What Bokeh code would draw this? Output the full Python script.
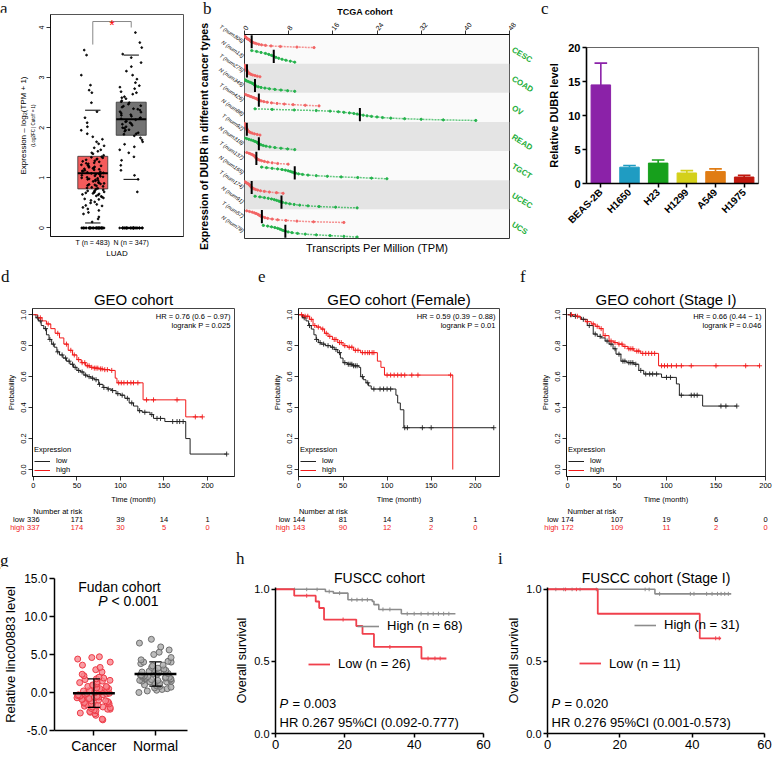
import numpy as np
from bokeh.plotting import figure
from bokeh.models import (Range1d, LinearAxis, FixedTicker, Label, ColumnDataSource, Div,
                          Legend, LegendItem, BoxAnnotation, NumeralTickFormatter)
from bokeh.layouts import row, column
from bokeh.transform import jitter
from bokeh.core.properties import value
from bokeh.embed import file_html
from bokeh.resources import INLINE

SANS = "Liberation Sans"
SERIF = "Liberation Serif"

# ======================= DATA =======================
# (a) GEPIA box plot, LUAD
a_labels = ["T (n = 483)", "N (n = 347)"]
a_q1 = [0.78, 1.85]
a_med = [1.09, 2.17]
a_q3 = [1.43, 2.51]
a_lo = [0.10, 0.97]
a_hi = [2.35, 3.45]
a_T = [0] * 40 + [
       0.12, 0.18, 0.22, 0.28, 0.31, 0.35, 0.38, 0.41, 0.44, 0.47, 0.50, 0.52, 0.55, 0.57,
       0.60, 0.62, 0.64, 0.66, 0.68, 0.70, 0.71, 0.73, 0.75, 0.76, 0.78, 0.80, 0.81, 0.83,
       0.85, 0.86, 0.88, 0.90, 0.91, 0.93, 0.95, 0.96, 0.98, 1.00, 1.01, 1.03, 1.05, 1.06,
       1.08, 1.09, 1.10, 1.12, 1.14, 1.15, 1.17, 1.19, 1.20, 1.22, 1.24, 1.26, 1.28, 1.30,
       1.32, 1.34, 1.36, 1.38, 1.40, 1.42, 1.45, 1.48, 1.50, 1.53, 1.56, 1.60, 1.64, 1.68,
       1.72, 1.77, 1.82, 1.88, 1.95, 2.02, 2.10, 2.20, 2.32, 2.50, 2.70, 2.75, 2.85, 3.05,
       3.45, 3.55,
       0.45, 0.58, 0.63, 0.69, 0.74, 0.79, 0.84, 0.89, 0.94, 0.99, 1.04, 1.07, 1.11, 1.16,
       1.21, 1.25, 1.29, 1.33, 1.37, 1.41, 0.67, 0.72, 0.87, 0.97, 1.02, 1.13, 1.18, 1.23]
a_N = [0] * 34 + [
       0.72, 0.97, 1.05, 1.15, 1.25, 1.35, 1.42, 1.50, 1.56, 1.62, 1.67, 1.72, 1.76, 1.80,
       1.84, 1.87, 1.90, 1.93, 1.96, 1.99, 2.02, 2.05, 2.08, 2.10, 2.13, 2.16, 2.18, 2.20,
       2.23, 2.26, 2.29, 2.32, 2.35, 2.38, 2.41, 2.44, 2.47, 2.50, 2.54, 2.58, 2.62, 2.67,
       2.72, 2.78, 2.84, 2.90, 2.97, 3.05, 3.13, 3.22, 3.30, 3.40, 3.47, 3.60, 3.70, 3.90,
       1.88, 1.95, 2.00, 2.07, 2.12, 2.19, 2.25, 2.31, 2.37, 2.43, 2.52, 2.60, 2.70, 2.81]

# (b) TCGA dot plot
b_types = ["CESC", "COAD", "OV", "READ", "TGCT", "UCEC", "UCS"]
b_tum_n = [306, 275, 426, 92, 137, 174, 57]
b_nor_n = [13, 349, 88, 318, 165, 91, 78]
b_T = [
    [0.0, 0.1, 0.2, 0.3, 0.4, 0.5, 0.7, 0.9, 1.0, 1.1, 1.2, 1.4, 1.6, 1.9, 2.2, 2.6, 3.1, 3.8, 4.8, 6.5, 9.5, 12.6],
    [0.0, 0.05, 0.1, 0.15, 0.2, 0.25, 0.3, 0.35, 0.4, 0.4, 0.45, 0.5, 0.6, 0.7, 0.8, 1.0, 1.2, 1.5, 1.9, 2.3, 2.8],
    [0.0, 0.3, 0.6, 0.9, 1.2, 1.5, 1.8, 2.1, 2.3, 2.5, 2.7, 3.0, 3.5, 4.1, 4.9, 5.9, 7.2, 8.8, 11.0, 13.5],
    [0.0, 0.05, 0.1, 0.15, 0.2, 0.25, 0.3, 0.35, 0.4, 0.4, 0.45, 0.5, 0.6, 0.7, 0.9, 1.1, 1.4, 1.8, 2.3, 2.8],
    [0.4, 0.8, 1.1, 1.4, 1.6, 1.8, 1.9, 2.0, 2.1, 2.2, 2.4, 2.7, 3.1, 3.6, 4.2, 5.0, 6.0, 7.9],
    [0.0, 0.2, 0.4, 0.6, 0.8, 0.9, 1.0, 1.1, 1.2, 1.3, 1.5, 1.7, 2.0, 2.4, 2.9, 3.6, 4.5, 5.8, 7.0],
    [0.4, 0.9, 1.4, 1.8, 2.1, 2.4, 2.6, 2.8, 3.0, 3.3, 3.7, 4.2, 5.0, 6.0, 7.5, 9.5, 12.5, 18.0],
]
b_N = [
    [1.3, 2.2, 3.0, 3.8, 4.4, 4.9, 5.3, 5.7, 6.2, 6.8, 7.5, 8.3, 9.1],
    [0.0, 0.2, 0.4, 0.7, 1.0, 1.3, 1.5, 1.7, 1.8, 1.9, 2.1, 2.5, 3.0, 3.7, 4.5, 5.5, 6.6, 7.8, 9.1],
    [1.9, 5.0, 9.0, 13.0, 15.5, 17.0, 18.0, 19.0, 19.8, 20.4, 20.9, 21.5, 22.2, 23.0, 24.0, 25.0, 26.5, 29.0, 32.0, 36.0, 41.9],
    [0.0, 0.4, 0.8, 1.2, 1.6, 1.9, 2.2, 2.4, 2.5, 2.7, 3.0, 3.4, 3.9, 4.6, 5.5, 6.6, 7.8, 9.1],
    [3.1, 4.0, 5.0, 6.0, 6.8, 7.4, 7.9, 8.3, 8.6, 8.9, 9.3, 9.8, 10.5, 11.5, 13.0, 15.0, 17.5, 20.5, 23.0, 25.8],
    [1.9, 2.8, 3.6, 4.3, 4.9, 5.4, 5.8, 6.2, 6.5, 6.9, 7.5, 8.2, 9.0, 10.0, 11.5, 13.5, 16.5, 20.4],
    [3.4, 4.2, 4.9, 5.5, 6.0, 6.4, 6.7, 7.0, 7.4, 7.9, 8.6, 9.6, 11.0, 13.0, 15.5, 18.0, 20.4],
]
b_xticks = [0, 8, 16, 24, 32, 40, 48]

# (c) cell lines
c_cells = ["BEAS-2B", "H1650", "H23", "H1299", "A549", "H1975"]
c_vals = [14.5, 2.4, 3.0, 1.55, 1.75, 0.95]
c_err = [3.2, 0.25, 0.45, 0.35, 0.4, 0.25]
c_colors = ["#8B22A8", "#1F9CC2", "#17A01C", "#D4D01A", "#E07C14", "#C0180E"]
c_yticks = [0, 5, 10, 15, 20]

# (d, e, f) GEO Kaplan-Meier
km_xticks = [0, 50, 100, 150, 200]
km_yticks = [0.0, 0.2, 0.4, 0.6, 0.8, 1.0]

d_low_t = [0, 3, 6, 9, 12, 15, 18, 21, 24, 27, 30, 34, 38, 42, 46, 50, 54, 58, 62, 66, 70, 75, 80, 85, 90,
           95, 100, 105, 110, 115, 120, 125, 134, 138, 151, 175, 180, 222]
d_low_s = [1.0, 0.98, 0.96, 0.93, 0.91, 0.87, 0.84, 0.81, 0.79, 0.76, 0.74, 0.72, 0.70, 0.68, 0.66, 0.64,
           0.63, 0.61, 0.60, 0.59, 0.58, 0.55, 0.53, 0.52, 0.51, 0.49, 0.48, 0.46, 0.43, 0.41, 0.38, 0.37,
           0.355, 0.33, 0.31, 0.20, 0.10, 0.10]
d_low_c = [5, 8, 14, 19, 23, 28, 33, 37, 41, 45, 48, 52, 56, 60, 64, 68, 72, 76, 81, 86, 91, 97, 102, 108,
           113, 122, 128, 136, 142, 146, 160, 165, 168, 172, 222]
d_high_t = [0, 5, 10, 15, 20, 25, 30, 35, 40, 45, 50, 55, 60, 65, 70, 75, 80, 88, 94, 96, 126, 175, 194]
d_high_s = [1.0, 0.98, 0.96, 0.94, 0.91, 0.88, 0.85, 0.81, 0.77, 0.74, 0.71, 0.69, 0.67, 0.66, 0.655, 0.65,
            0.645, 0.64, 0.59, 0.56, 0.45, 0.34, 0.34]
d_high_c = [8, 17, 28, 38, 43, 47, 52, 56, 59, 62, 64, 67, 70, 72, 74, 77, 79, 82, 85, 90, 98, 101, 104, 108,
            112, 115, 120, 130, 138, 165, 186, 194]
d_risk_low = [336, 171, 39, 14, 1]
d_risk_high = [337, 174, 30, 5, 0]

e_low_t = [0, 4, 8, 11, 14, 17, 19.5, 22, 25, 30, 36, 40, 44, 47, 50, 55, 61, 68, 70, 73, 76, 79, 82, 110,
           112, 115, 119, 221]
e_low_s = [1.0, 0.98, 0.96, 0.93, 0.907, 0.87, 0.84, 0.82, 0.81, 0.80, 0.79, 0.775, 0.755, 0.72, 0.69, 0.68,
           0.67, 0.66, 0.60, 0.58, 0.56, 0.54, 0.52, 0.48, 0.43, 0.386, 0.27, 0.27]
e_low_c = [6, 12, 20, 24, 28, 33, 38, 42, 46, 52, 56, 58, 60, 62, 64, 66, 72, 78, 85, 92, 96, 100, 104, 120,
           123, 140, 150, 221]
e_high_t = [0, 5, 12, 16, 20, 25, 29, 33, 38, 44, 50, 55, 62, 70, 89, 93, 97, 174.5]
e_high_s = [1.0, 0.99, 0.97, 0.93, 0.92, 0.907, 0.88, 0.86, 0.84, 0.82, 0.80, 0.79, 0.77, 0.755, 0.70, 0.66,
            0.61, 0.0]
e_high_c = [3, 7, 10, 14, 18, 22, 27, 31, 35, 40, 42, 46, 48, 52, 57, 60, 64, 67, 72, 75, 78, 80, 83, 85, 100,
            104, 108, 112, 116, 120, 128, 135, 172]
e_risk_low = [144, 81, 14, 3, 1]
e_risk_high = [143, 90, 12, 2, 0]

f_low_t = [0, 5, 10, 14, 20, 26, 30, 34, 38, 42, 46, 49, 54, 60, 67, 72, 77, 95, 110, 113, 136.5, 171]
f_low_s = [1.0, 0.99, 0.985, 0.97, 0.93, 0.875, 0.86, 0.85, 0.83, 0.81, 0.78, 0.745, 0.70, 0.69, 0.68, 0.64,
           0.617, 0.595, 0.553, 0.48, 0.41, 0.41]
f_low_c = [3, 8, 16, 22, 28, 33, 40, 44, 48, 52, 56, 58, 62, 64, 66, 69, 74, 79, 83, 86, 90, 100, 104, 115,
           125, 128, 131, 155, 160, 171]
f_high_t = [0, 8, 13, 18, 24, 28, 32, 36, 42, 47, 51, 56, 61, 67, 74, 92, 194.5]
f_high_s = [1.0, 0.99, 0.97, 0.955, 0.94, 0.925, 0.91, 0.865, 0.83, 0.82, 0.81, 0.795, 0.78, 0.765, 0.75,
            0.67, 0.67]
f_high_c = [4, 10, 20, 26, 30, 34, 38, 44, 48, 52, 55, 58, 62, 64, 66, 70, 72, 76, 79, 82, 85, 88, 95, 98,
            101, 105, 110, 115, 125, 150, 180, 194]
f_risk_low = [174, 107, 19, 6, 0]
f_risk_high = [172, 109, 11, 2, 0]

# (g) Fudan cohort
g_groups = ["Cancer", "Normal"]
g_cancer = [-3.6, -3.5, -3.0, -2.8, -2.7, -2.6, -2.5, -2.4, -2.3, -2.2, -2.2, -2.1, -2.0, -1.9, -1.9, -1.8,
            -1.7, -1.7, -1.6, -1.5, -1.5, -1.4, -1.3, -1.3, -1.2, -1.1, -1.1, -1.0, -0.9, -0.9, -0.8, -0.8,
            -0.7, -0.7, -0.6, -0.6, -0.5, -0.5, -0.4, -0.4, -0.3, -0.3, -0.2, -0.2, -0.1, -0.1, 0.0, 0.0,
            0.1, 0.1, 0.2, 0.2, 0.3, 0.3, 0.4, 0.5, 0.5, 0.6, 0.7, 0.8, 0.8, 0.9, 1.0, 1.1, 1.2, 1.3, 1.4,
            1.5, 1.6, 1.7, 1.8, 1.9, 2.0, 2.2, 2.4, 2.7, 3.0, 3.3, 3.6, 4.0, 4.4, 4.6, 4.7]
g_normal = [0.0, 0.2, 0.3, 0.4, 0.5, 0.6, 0.7, 0.8, 0.9, 1.0, 1.0, 1.1, 1.2, 1.2, 1.3, 1.4, 1.4, 1.5, 1.5,
            1.6, 1.6, 1.7, 1.7, 1.8, 1.8, 1.9, 1.9, 2.0, 2.0, 2.0, 2.1, 2.1, 2.2, 2.2, 2.3, 2.3, 2.4, 2.5,
            2.5, 2.6, 2.7, 2.8, 2.9, 3.0, 3.1, 3.2, 3.3, 3.5, 3.6, 3.8, 4.0, 4.0, 4.1, 4.3, 4.6, 5.0, 5.3,
            5.6, 6.0, 6.5, 7.0]
g_yticks = [-5, 0, 5, 10, 15]

# (h, i) FUSCC Kaplan-Meier
p_xticks = [0, 20, 40, 60]
p_yticks = [0.0, 0.5, 1.0]
h_hi_t = [0, 14.4, 16.7, 20.9, 27.9, 28.4, 29.8, 36.3, 51.9]
h_hi_s = [1.0, 0.984, 0.973, 0.927, 0.916, 0.893, 0.86, 0.83, 0.83]
h_hi_c = [5.5, 9, 12, 15.5, 18.5, 22, 23.5, 25, 26.5, 31, 33, 38, 40, 42, 44, 45.5, 47, 48.5, 50]
h_lo_t = [0, 5.4, 11.6, 12.6, 14.0, 23.3, 25.1, 28.4, 42.1, 49.3]
h_lo_s = [1.0, 0.955, 0.915, 0.87, 0.79, 0.745, 0.69, 0.60, 0.52, 0.52]
h_lo_c = [9, 19.5, 33, 44, 46, 47.5]
i_hi_t = [0, 29.7, 50.8]
i_hi_s = [1.0, 0.968, 0.968]
i_hi_c = [2.3, 4.5, 6.8, 9, 13.5, 27, 28.1, 31, 39.5, 40.5, 44, 45.5, 47, 48, 49, 50]
i_lo_t = [0, 13.9, 42.1, 48.0]
i_lo_s = [1.0, 0.83, 0.66, 0.66]
i_lo_c = [5, 8, 46.5, 47.5]

# ======================= HELPERS =======================
def make_fig(w, h, l, r, t, b, xr, yr):
    p = figure(width=w, height=h, x_range=xr, y_range=yr, output_backend="svg",
               toolbar_location=None, x_axis_location=None, y_axis_location=None,
               min_border_left=l, min_border_right=r, min_border_top=t, min_border_bottom=b)
    p.grid.visible = False
    p.outline_line_color = None
    return p


def mk_axis(ticks, size="8px", lsize=None, label="", bold=False, bold_title=False, tick_out=4,
            line=True, lw=1, standoff=2, title_standoff=4, color="black", orient="horizontal"):
    ax = LinearAxis(ticker=FixedTicker(ticks=ticks))
    ax.axis_label = label
    ax.major_label_text_font = SANS
    ax.axis_label_text_font = SANS
    ax.major_label_text_font_size = size
    ax.axis_label_text_font_size = lsize or size
    ax.major_label_text_font_style = "bold" if bold else "normal"
    ax.axis_label_text_font_style = "bold" if bold_title else "normal"
    ax.axis_label_text_color = "black"
    ax.major_tick_out = tick_out
    ax.major_tick_in = 0
    ax.minor_tick_line_color = None
    ax.major_label_standoff = standoff
    ax.axis_label_standoff = title_standoff
    ax.axis_line_width = lw
    ax.major_tick_line_width = lw
    ax.major_label_text_color = color
    ax.major_label_orientation = orient
    if not line:
        ax.axis_line_color = None
    if tick_out == 0:
        ax.major_tick_line_color = None
    return ax


def lab(p, x, y, text, size="8px", align="left", baseline="middle", style="normal", color="black",
        font=SANS, xu="screen", yu="screen", x_offset=0):
    p.add_layout(Label(x=x, y=y, x_units=xu, y_units=yu, text=text, text_font=font,
                       text_font_size=size, text_align=align, text_baseline=baseline,
                       text_font_style=style, text_color=color, x_offset=x_offset))


def set_title(p, text, size="15px", standoff=3, offset=0):
    p.title.text = text
    p.title.align = "center"
    p.title.text_font = SANS
    p.title.text_font_size = size
    p.title.text_font_style = "normal"
    p.title.text_color = "black"
    p.title.standoff = standoff
    p.title.offset = offset


def head_div(w, h, letter, left, top, extra=""):
    html = ('<div style="position:relative;width:%dpx;height:%dpx;">'
            '<span style="position:absolute;left:%dpx;top:%dpx;font-family:\'Liberation Serif\',serif;'
            'font-size:17px;line-height:17px;color:#111;">%s</span>%s</div>') % (w, h, left, top, letter, extra)
    return Div(text=html, width=w, height=h, margin=0)


def step_at(t, s, c):
    t = np.asarray(t, dtype=float)
    s = np.asarray(s, dtype=float)
    idx = np.searchsorted(t, np.asarray(c, dtype=float), side="right") - 1
    return s[np.clip(idx, 0, len(s) - 1)].tolist()

# ======================= (a) =======================
pa = make_fig(195, 248, 50, 12, 2, 20, Range1d(-1.6, 1.86), Range1d(-0.17, 4.26))
pa.outline_line_color = "#555555"
a_pos = [-0.5, 0.5]
hw = 0.39
pa.quad(left=[x - hw for x in a_pos], right=[x + hw for x in a_pos], bottom=a_q1, top=a_q3,
        fill_color=["#F45B5B", "#737373"], line_color="#333333", line_width=0.8)
a_src = ColumnDataSource(dict(x=[a_pos[0]] * len(a_T) + [a_pos[1]] * len(a_N), y=a_T + a_N))
pa.scatter(x=jitter("x", width=0.6), y="y", source=a_src, size=1.8, color="black", alpha=0.9)
pa.segment(x0=[x - hw for x in a_pos], y0=a_med, x1=[x + hw for x in a_pos], y1=a_med,
           line_color="black", line_width=2)
pa.segment(x0=[x - 0.2 for x in a_pos], y0=a_hi, x1=[x + 0.2 for x in a_pos], y1=a_hi,
           line_color="black", line_width=1)
pa.segment(x0=[x - 0.2 for x in a_pos], y0=a_lo, x1=[x + 0.2 for x in a_pos], y1=a_lo,
           line_color="black", line_width=1)
pa.line(x=[a_pos[0], a_pos[0], a_pos[1], a_pos[1]], y=[3.66, 4.12, 4.12, 4.0],
        line_color="#888888", line_width=1)
pa.text(x=[0.0], y=[4.12], text=["*"], text_color="red", text_font=value(SANS), text_font_size="14px",
        text_align="center", text_baseline="middle", y_offset=3)
ya_in = mk_axis([0, 1, 2, 3, 4], size="7px", lsize="4.5px", label="(Log2FC | Cutoff = 1)",
                orient="vertical", title_standoff=1, lw=0.8)
pa.add_layout(ya_in, "left")
ya_out = mk_axis([], size="7px", lsize="8px", label="Expression \u2013 log\u2082(TPM + 1)",
                 line=False, tick_out=0, title_standoff=0, standoff=0)
pa.add_layout(ya_out, "left")
xa = mk_axis([-0.5, 0.5], size="7px", lsize="8px", label="LUAD", tick_out=0, title_standoff=0, lw=0.8)
xa.major_label_overrides = {-0.5: a_labels[0], 0.5: a_labels[1]}
pa.add_layout(xa, "below")
col_a = column(head_div(195, 12, "a", 0, 0), pa)

# ======================= (b) =======================
pb = make_fig(345, 246, 48, 30, 20, 22, Range1d(0, 48), Range1d(0, 14))
pb.outline_line_color = "#333333"
pb.background_fill_color = "#FAFAFA"
for k in (1, 3, 5):
    pb.add_layout(BoxAnnotation(bottom=12 - 2 * k, top=14 - 2 * k, fill_color="#E4E4E4", fill_alpha=1,
                                line_color=None, level="underlay"))
RED_B, GREEN_B = "#F26464", "#22B24A"
for k in range(7):
    for vals, col, top in ((b_T[k], RED_B, 14 - 2 * k), (b_N[k], GREEN_B, 13 - 2 * k)):
        v = sorted(vals)
        m = len(v)
        ys = [top - 0.1 - 0.8 * j / (m - 1) for j in range(m)]
        pb.line(v, ys, line_color=col, line_width=1.5, line_alpha=0.7, line_dash="2 1")
        pb.scatter(v, ys, size=2.2, color=col)
        med = float(np.median(v))
        pb.segment(x0=[med], y0=[top - 0.95], x1=[med], y1=[top - 0.05], line_color="black", line_width=2)
bt = mk_axis(b_xticks, size="7px", orient=0.9, lw=0.8, standoff=1)
pb.add_layout(bt, "above")
row_c, row_l = [], {}
for k in range(7):
    row_c += [13.5 - 2 * k, 12.5 - 2 * k]
    row_l[13.5 - 2 * k] = "T (num%d)" % b_tum_n[k]
    row_l[12.5 - 2 * k] = "N (num%d)" % b_nor_n[k]
bl = mk_axis(row_c, size="5.5px", lsize="10.5px", label="Expression of DUBR in different cancer types",
             bold_title=True, tick_out=0, line=False, orient=-0.6, title_standoff=3, standoff=1)
bl.major_label_overrides = row_l
bl.major_label_text_font_style = "italic"
pb.add_layout(bl, "left")
br = mk_axis([13 - 2 * k for k in range(7)], size="8px", bold=True, tick_out=0, line=False,
             orient=-0.55, color="#1FAF3C", standoff=3)
br.major_label_overrides = {13 - 2 * k: b_types[k] for k in range(7)}
pb.add_layout(br, "right")
bb = mk_axis([], size="7px", lsize="11px", label="Transcripts Per Million (TPM)", tick_out=0,
             line=False, standoff=0, title_standoff=3)
pb.add_layout(bb, "below")
b_title = ('<span style="position:absolute;left:170px;top:6px;transform:translateX(-50%);'
           'font-family:\'Liberation Sans\',sans-serif;font-size:9px;font-weight:bold;white-space:nowrap;">'
           'TCGA cohort</span>')
col_b = column(head_div(345, 14, "b", 8, 0, b_title), pb)

# ======================= (c) =======================
pc = make_fig(232, 246, 46, 14, 33, 77, Range1d(-0.5, 5.5), Range1d(0, 20))
pc.outline_line_color = "#666666"
pc.outline_line_width = 1.2
c_idx = list(range(len(c_cells)))
c_top = [v + e for v, e in zip(c_vals, c_err)]
pc.segment(x0=c_idx, y0=c_vals, x1=c_idx, y1=c_top, line_color=c_colors, line_width=1.6)
pc.segment(x0=[i - 0.22 for i in c_idx], y0=c_top, x1=[i + 0.22 for i in c_idx], y1=c_top,
           line_color=c_colors, line_width=1.6)
pc.vbar(x=c_idx, top=c_vals, width=0.68, fill_color=c_colors, line_color=c_colors)
cy = mk_axis(c_yticks, size="11px", lsize="11px", label="Relative DUBR level", bold=True, bold_title=True,
             lw=1.5, title_standoff=5)
pc.add_layout(cy, "left")
cx = mk_axis(c_idx, size="10px", bold=True, lw=1.5, orient=0.785, standoff=3)
cx.major_label_overrides = {i: c_cells[i] for i in c_idx}
pc.add_layout(cx, "below")
col_c = column(head_div(232, 14, "c", 1, 0), pc)

# ======================= (d, e, f) =======================
KM_LOW, KM_HIGH = "#222222", "#F21A1A"


def km_r(w, l, r, xs, xe, title, hr, lr, lt, ls, lc, ht, hs, hc, rlow, rhigh, let, let_x):
    H, t, b = 222, 24, 28
    p = make_fig(w, H, l, r, t, b, Range1d(xs, xe), Range1d(-0.045, 1.04))
    fw, fh = w - l - r, H - t - b
    p.outline_line_color = "#444444"
    rl = p.step(lt, ls, mode="after", line_color=KM_LOW, line_width=1)
    rh = p.step(ht, hs, mode="after", line_color=KM_HIGH, line_width=1)
    p.scatter(lc, step_at(lt, ls, lc), marker="cross", size=5, line_color=KM_LOW, line_width=0.9)
    p.scatter(hc, step_at(ht, hs, hc), marker="cross", size=5, line_color=KM_HIGH, line_width=0.9)
    xa = mk_axis(km_xticks, size="7.5px", label="Time (month)", lw=0.8, standoff=2, title_standoff=4)
    p.add_layout(xa, "below")
    ya = mk_axis(km_yticks, size="7.5px", label="Probability", lw=0.8, orient="vertical",
                 standoff=2, title_standoff=3)
    ya.formatter = NumeralTickFormatter(format="0.0")
    p.add_layout(ya, "left")
    leg = Legend(items=[LegendItem(label="low", renderers=[rl]), LegendItem(label="high", renderers=[rh])],
                 title="Expression", location="bottom_left", label_text_font=SANS,
                 label_text_font_size="7.5px", title_text_font=SANS, title_text_font_size="7.5px",
                 title_text_font_style="normal", title_text_color="black", label_text_color="black",
                 glyph_height=8, glyph_width=16, label_height=8,
                 label_standoff=6, spacing=0, padding=3, margin=2, title_standoff=2,
                 border_line_color=None, background_fill_alpha=0)
    p.add_layout(leg)
    set_title(p, title, size="15px", standoff=2)
    lab(p, fw - 4, fh - 5, hr, size="7.5px", align="right", baseline="top")
    lab(p, fw - 4, fh - 14, lr, size="7.5px", align="right", baseline="top")

    # number-at-risk table: full-width frame, x scale aligned with the KM frame above
    RH = 34
    u = (xe - xs) / fw
    q = make_fig(w, RH, 0, 0, 0, 0, Range1d(xs - l * u, xe + r * u), Range1d(0, RH))
    q.min_border = 0
    tf = value(SANS)
    q.text(x=[km_xticks[0]], y=[RH - 5], text=["Number at risk"], text_font=tf, text_font_size="7.5px",
           text_baseline="middle", text_align="left")
    q.text(x=[km_xticks[0]], y=[RH - 13], text=["low"], text_font=tf, text_font_size="7.5px",
           text_baseline="middle", text_align="right", x_offset=-9)
    q.text(x=[km_xticks[0]], y=[RH - 21], text=["high"], text_font=tf, text_font_size="7.5px",
           text_baseline="middle", text_align="right", x_offset=-9, text_color=KM_HIGH)
    q.text(x=km_xticks, y=[RH - 13] * len(km_xticks), text=[str(v) for v in rlow], text_font=tf,
           text_font_size="7.5px", text_baseline="middle", text_align="center")
    q.text(x=km_xticks, y=[RH - 21] * len(km_xticks), text=[str(v) for v in rhigh], text_font=tf,
           text_font_size="7.5px", text_baseline="middle", text_align="center", text_color=KM_HIGH)
    return column(head_div(w, 24, let, let_x, 8), column(p), column(q))


col_d = km_r(258, 32, 24, -1, 231, "GEO cohort", "HR = 0.76 (0.6 \u2212 0.97)",
             "logrank P = 0.025", d_low_t, d_low_s, d_low_c, d_high_t, d_high_s, d_high_c,
             d_risk_low, d_risk_high, "d", 1)
col_e = km_r(258, 40, 17, -0.5, 227.5, "GEO cohort (Female)", "HR = 0.59 (0.39 \u2212 0.88)",
             "logrank P = 0.01", e_low_t, e_low_s, e_low_c, e_high_t, e_high_s, e_high_c,
             e_risk_low, e_risk_high, "e", 0)
col_f = km_r(256, 50, 7, -1, 200, "GEO cohort (Stage I)", "HR = 0.66 (0.44 \u2212 1)",
             "logrank P = 0.046", f_low_t, f_low_s, f_low_c, f_high_t, f_high_s, f_high_c,
             f_risk_low, f_risk_high, "f", 4)

# ======================= (g) =======================
pg = make_fig(232, 190, 48, 45, 12, 26, Range1d(-0.64, 1.52), Range1d(-5, 15))
gfw, gfh = 232 - 48 - 45, 190 - 12 - 26
g_src = ColumnDataSource(dict(
    x=[0] * len(g_cancer) + [1] * len(g_normal),
    y=g_cancer + g_normal,
    fc=["#F7868E"] * len(g_cancer) + ["#ABABAB"] * len(g_normal),
    lc=["#EE3B47"] * len(g_cancer) + ["#6E6E6E"] * len(g_normal)))
pg.scatter(x=jitter("x", width=0.55), y="y", source=g_src, size=6, fill_color="fc", line_color="lc",
           line_width=1, fill_alpha=0.8)
for gi, vals in enumerate([g_cancer, g_normal]):
    mu = float(np.mean(vals))
    sd = float(np.std(vals, ddof=1))
    pg.segment(x0=[gi - 0.34], y0=[mu], x1=[gi + 0.34], y1=[mu], line_color="black", line_width=2.5)
    pg.segment(x0=[gi, gi - 0.1, gi - 0.1], y0=[mu - sd, mu - sd, mu + sd],
               x1=[gi, gi + 0.1, gi + 0.1], y1=[mu + sd, mu - sd, mu + sd],
               line_color="black", line_width=1.2)
gy = mk_axis(g_yticks, size="12px", lsize="13px", label="Relative linc00883 level", lw=1.5,
             tick_out=5, standoff=2, title_standoff=3)
gy.formatter = NumeralTickFormatter(format="0.0")
pg.add_layout(gy, "left")
gx = mk_axis([0, 1], size="14px", lw=1.5, tick_out=5, standoff=2)
gx.major_label_overrides = {0: g_groups[0], 1: g_groups[1]}
pg.add_layout(gx, "below")
lab(pg, 65, gfh, "Fudan cohort", size="14px", align="center", baseline="top")
lab(pg, 53, gfh - 22, "P", size="14px", align="right", style="italic")
lab(pg, 57, gfh - 22, "< 0.001", size="14px", align="left")
col_g = column(head_div(232, 26, "g", 0, 12), pg)

# ======================= (h, i) =======================
GRAY, RED = "#8C8C8C", "#F0404C"


def km_prism(w, l, r, title, toff, gt, gs, gc, rt, rs, rc, leg_hi, leg_lo, hi_pos, lo_pos,
             ptxt, hrtxt, let, let_x):
    H, t, b = 190, 21, 23
    p = make_fig(w, H, l, r, t, b, Range1d(0, 60), Range1d(0, 1.012))
    fw, fh = w - l - r, H - t - b
    rg = p.step(gt, gs, mode="after", line_color=GRAY, line_width=1.6)
    cg = p.scatter(gc, step_at(gt, gs, gc), marker="dash", angle=np.pi / 2, size=4, line_color=GRAY,
                   line_width=1)
    rr = p.step(rt, rs, mode="after", line_color=RED, line_width=1.8)
    cr = p.scatter(rc, step_at(rt, rs, rc), marker="dash", angle=np.pi / 2, size=4, line_color=RED,
                   line_width=1)
    xa = mk_axis(p_xticks, size="13px", lw=1.5, tick_out=4, standoff=2)
    p.add_layout(xa, "below")
    ya = mk_axis(p_yticks, size="11px", lsize="12.5px", label="Overall survival", lw=1.5, tick_out=4,
                 standoff=2, title_standoff=2)
    ya.formatter = NumeralTickFormatter(format="0.0")
    p.add_layout(ya, "left")
    for item, pos, rends in ((leg_hi, hi_pos, [rg, cg]), (leg_lo, lo_pos, [rr, cr])):
        p.add_layout(Legend(items=[LegendItem(label=item, renderers=rends)],
                            location=(pos[0], pos[1] * fh - 8), label_text_font=SANS,
                            label_text_font_size="13px", label_text_color="black",
                            glyph_width=22, glyph_height=14,
                            label_height=14, label_standoff=8, padding=0, margin=0, spacing=0,
                            border_line_color=None, background_fill_alpha=0))
    set_title(p, title, size="14px", standoff=3, offset=toff)
    lab(p, 4, 0.205, "P", size="13px", style="italic", yu="data")
    lab(p, 4, 0.205, "= " + ptxt, size="13px", yu="data", x_offset=13)
    lab(p, 4, 0.077, hrtxt, size="13px", yu="data")
    return column(head_div(w, 26, let, let_x, 10), column(p))


col_h = km_prism(265, 38, 14, "FUSCC cohort", 0, h_hi_t, h_hi_s, h_hi_c, h_lo_t, h_lo_s, h_lo_c,
                 "High (n = 68)", "Low (n = 26)", (82, 0.737), (33, 0.477), "0.003",
                 "HR 0.267 95%CI (0.092-0.777)", "h", 4)
col_i = km_prism(275, 50, 8, "FUSCC cohort (Stage I)", 0, i_hi_t, i_hi_s, i_hi_c, i_lo_t, i_lo_s, i_lo_c,
                 "High (n = 31)", "Low (n = 11)", (87, 0.745), (32, 0.48), "0.020",
                 "HR 0.276 95%CI (0.001-0.573)", "i", 1)

layout = column(row(col_a, col_b, col_c), row(col_d, col_e, col_f), row(col_g, col_h, col_i))
open("out.html", "w").write(file_html(layout, INLINE))
